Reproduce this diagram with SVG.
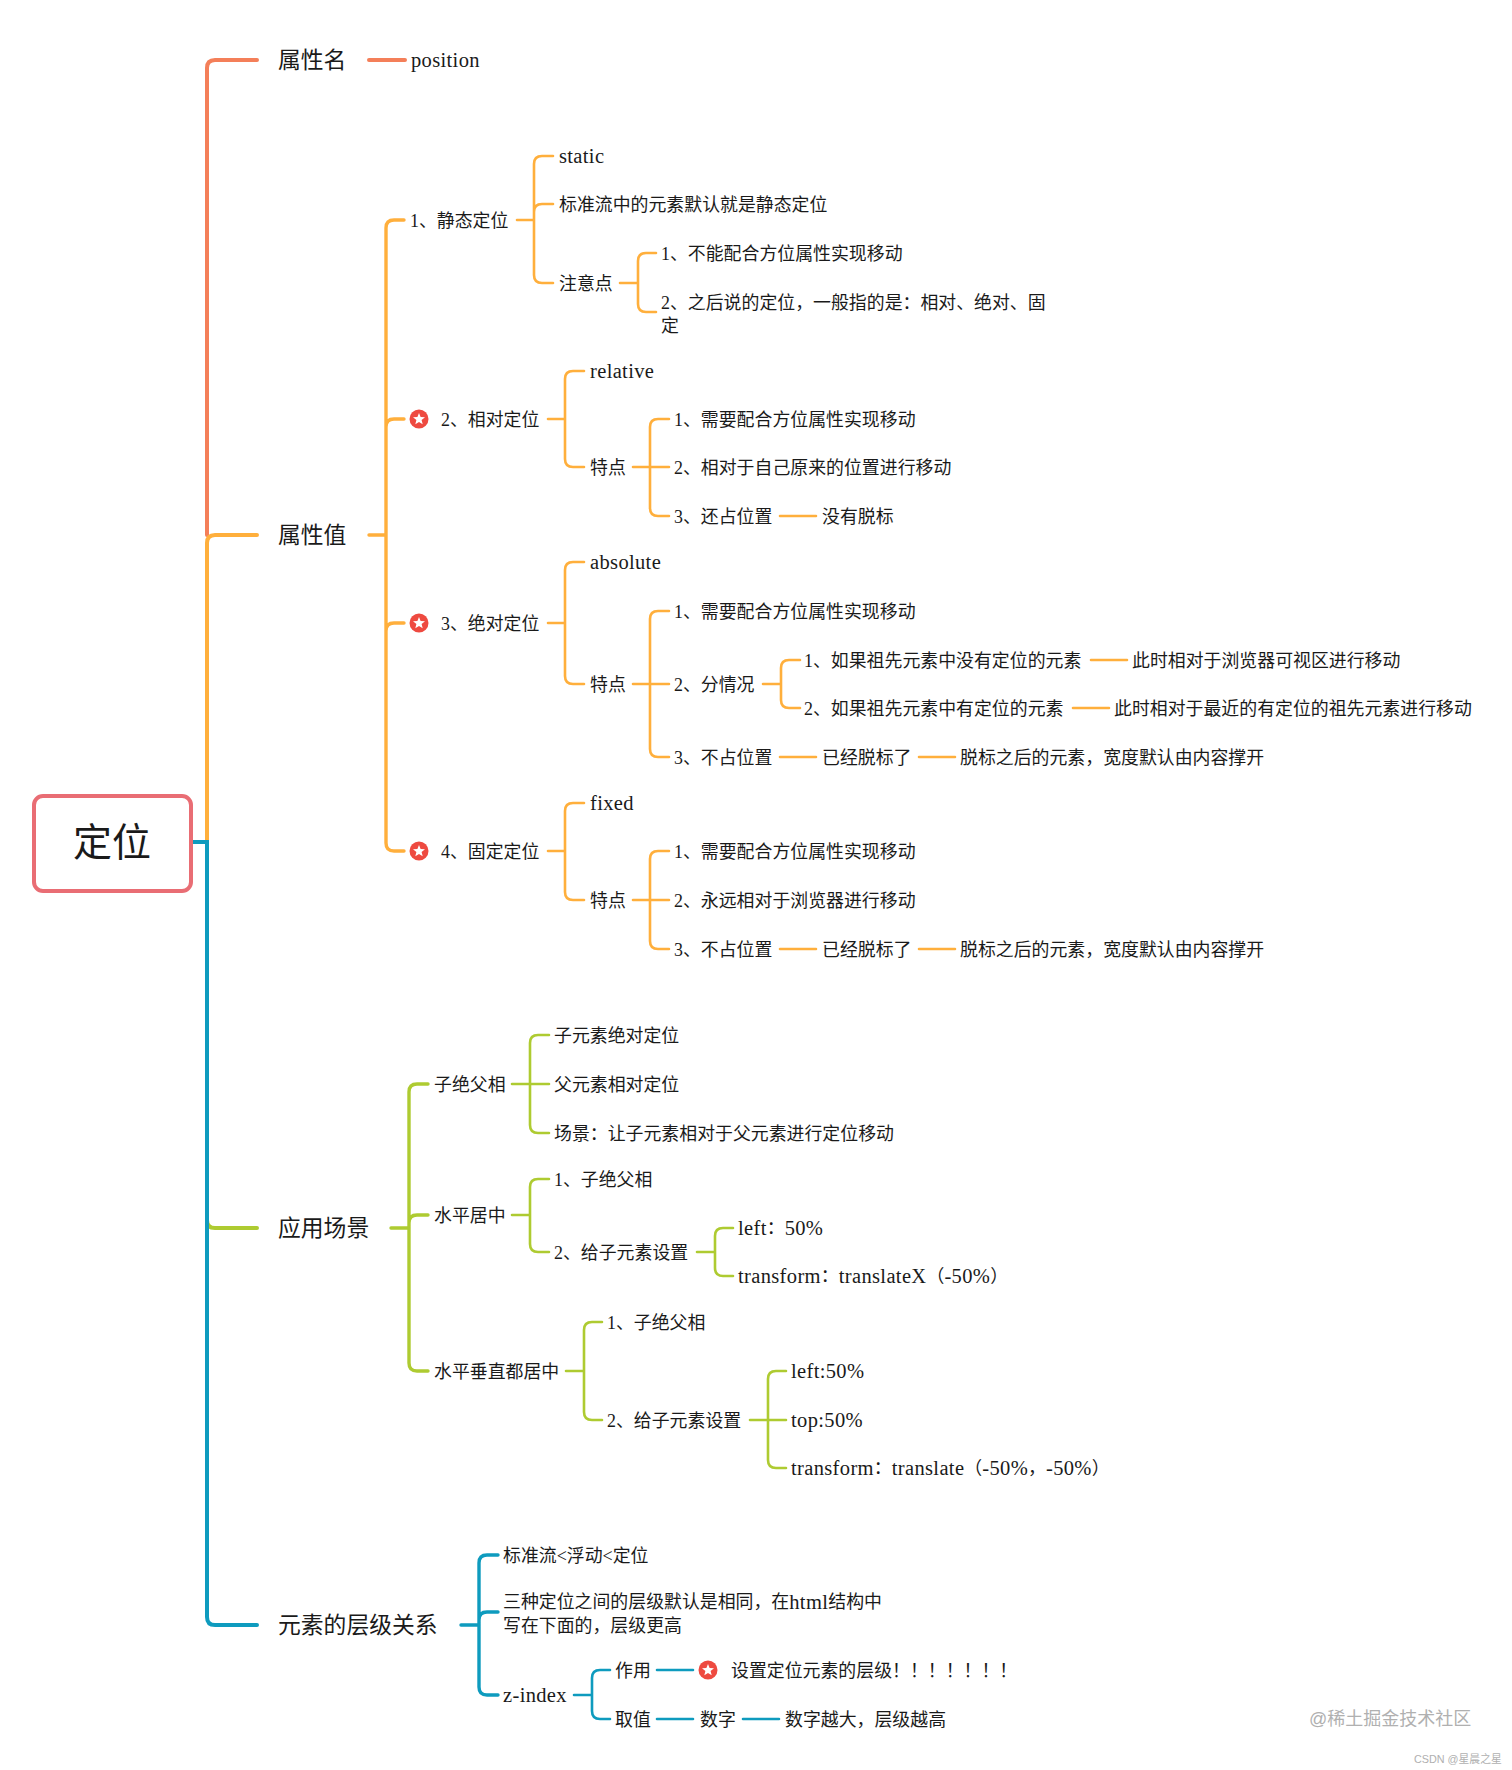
<svg xmlns="http://www.w3.org/2000/svg" xmlns:xlink="http://www.w3.org/1999/xlink" width="1512" height="1770" viewBox="0 0 1512 1770">
<style>
text{font-family:"Liberation Serif","Noto Sans CJK SC",sans-serif;font-size:17.9px;fill:#1a1a1a;dominant-baseline:central;transform:translateY(1px)}
text.t1{font-size:22.8px;transform:none}
text.root{font-size:39px;transform:none}
.l{font-size:20.5px;letter-spacing:.35px}
text.l,text.n{transform:none}
text.wm{fill:#b0b0b0;font-family:"Liberation Sans","Noto Sans CJK SC",sans-serif;transform:none}
path{fill:none;stroke-linecap:round}
.a{stroke-width:4}.b{stroke-width:3.4}.c{stroke-width:2.6}
.R{stroke:#F47F59}.O{stroke:#FFAF3C}.G{stroke:#AECB31}.T{stroke:#0E9BBE}
</style>
<defs>
<g id="star"><circle r="9.5" fill="#EE4A40"/><polygon fill="#fff" points="0,-6 1.6,-1.9 6,-1.7 2.6,1 3.7,5.2 0,2.9 -3.7,5.2 -2.6,1 -6,-1.7 -1.6,-1.9"/></g>
</defs>
<rect width="1512" height="1770" fill="#fff"/>
<g id="connectors">
<path class="a R" d="M207 535V68q0-8 8-8H257M369 60H405"/>
<path class="a O" d="M207 842V543q0-8 8-8H257"/>
<path class="a G" d="M207 1220q0 8 8 8H257"/>
<path class="a T" d="M192 842H207V1617q0 8 8 8H257"/>
<path class="b O" d="M369 535H386M404 220H394q-8 0-8 8V843q0 8 8 8H404M386 427q0-8 8-8H404M386 631q0-8 8-8H404"/>
<path class="c O" d="M517 220H534M553 156H542q-8 0-8 8V275q0 8 8 8H553M534 212q0-8 8-8H553"/>
<path class="c O" d="M620 283H638M656 253H646q-8 0-8 8V304q0 8 8 8H656"/>
<path class="c O" d="M548 419H565M584 371H573q-8 0-8 8V459q0 8 8 8H584"/>
<path class="c O" d="M633 467H650H669M669 419H658q-8 0-8 8V508q0 8 8 8H669M780 516H816"/>
<path class="c O" d="M548 623H565M584 562H573q-8 0-8 8V676q0 8 8 8H584"/>
<path class="c O" d="M633 684H669M669 611H658q-8 0-8 8V749q0 8 8 8H669M763 684H781M800 660H789q-8 0-8 8V700q0 8 8 8H800M1091 660H1127M1073 708H1109M780 757H816M919 757H955"/>
<path class="c O" d="M548 851H565M584 803H573q-8 0-8 8V892q0 8 8 8H584"/>
<path class="c O" d="M633 900H669M669 851H658q-8 0-8 8V941q0 8 8 8H669M780 949H816M919 949H955"/>
<path class="b G" d="M391 1228H409M428 1084H417q-8 0-8 8V1363q0 8 8 8H428M409 1223q0-8 8-8H428"/>
<path class="c G" d="M512 1084H549M549 1035H538q-8 0-8 8V1125q0 8 8 8H549"/>
<path class="c G" d="M512 1215H530M549 1179H538q-8 0-8 8V1244q0 8 8 8H549M697 1252H715M733 1228H723q-8 0-8 8V1268q0 8 8 8H733"/>
<path class="c G" d="M566 1371H584M602 1322H592q-8 0-8 8V1412q0 8 8 8H602M750 1420H786M786 1371H776q-8 0-8 8V1460q0 8 8 8H786"/>
<path class="b T" d="M461 1625H479M498 1555H487q-8 0-8 8V1687q0 8 8 8H498M479 1620q0-8 8-8H498"/>
<path class="c T" d="M574 1695H592M610 1670H600q-8 0-8 8V1711q0 8 8 8H610M657 1670H693M657 1719H693M743 1719H779"/>
</g>
<g id="root"><rect x="34" y="796" width="157" height="95" rx="9" fill="#fff" stroke="#E96D74" stroke-width="4"/><text class="root" x="112" y="842" text-anchor="middle">定位</text></g>
<g id="n1"><text class="t1" x="278" y="60">属性名</text></g>
<g id="n1a"><text class="l" x="411" y="60">position</text></g>
<g id="n2"><text class="t1" x="278" y="535">属性值</text></g>
<g id="n3"><text class="t1" x="278" y="1228">应用场景</text></g>
<g id="n4"><text class="t1" x="278" y="1625">元素的层级关系</text></g>

<g id="s1"><text x="410" y="220">1、静态定位</text></g>
<g id="s1a"><text class="l" x="559" y="156">static</text></g>
<g id="s1b"><text x="559" y="204">标准流中的元素默认就是静态定位</text></g>
<g id="s1c"><text x="559" y="283">注意点</text></g>
<g id="s1c1"><text x="661" y="253">1、不能配合方位属性实现移动</text></g>
<g id="s1c2"><text x="661" y="302">2、之后说的定位，一般指的是：相对、绝对、固</text><text x="661" y="325">定</text></g>

<g id="s2"><use href="#star" x="419" y="419"/><text x="441" y="419">2、相对定位</text></g>
<g id="s2a"><text class="l" x="590" y="371">relative</text></g>
<g id="s2b"><text x="590" y="467">特点</text></g>
<g id="s2b1"><text x="674" y="419">1、需要配合方位属性实现移动</text></g>
<g id="s2b2"><text x="674" y="467">2、相对于自己原来的位置进行移动</text></g>
<g id="s2b3"><text x="674" y="516">3、还占位置</text></g>
<g id="s2b3a"><text x="822" y="516">没有脱标</text></g>

<g id="s3"><use href="#star" x="419" y="623"/><text x="441" y="623">3、绝对定位</text></g>
<g id="s3a"><text class="l" x="590" y="562">absolute</text></g>
<g id="s3b"><text x="590" y="684">特点</text></g>
<g id="s3b1"><text x="674" y="611">1、需要配合方位属性实现移动</text></g>
<g id="s3b2"><text x="674" y="684">2、分情况</text></g>
<g id="s3b2a"><text x="804" y="660">1、如果祖先元素中没有定位的元素</text></g>
<g id="s3b2a1"><text x="1132" y="660">此时相对于浏览器可视区进行移动</text></g>
<g id="s3b2b"><text x="804" y="708">2、如果祖先元素中有定位的元素</text></g>
<g id="s3b2b1"><text x="1114" y="708">此时相对于最近的有定位的祖先元素进行移动</text></g>
<g id="s3b3"><text x="674" y="757">3、不占位置</text></g>
<g id="s3b3a"><text x="822" y="757">已经脱标了</text></g>
<g id="s3b3b"><text x="960" y="757">脱标之后的元素，宽度默认由内容撑开</text></g>

<g id="s4"><use href="#star" x="419" y="851"/><text x="441" y="851">4、固定定位</text></g>
<g id="s4a"><text class="l" x="590" y="803">fixed</text></g>
<g id="s4b"><text x="590" y="900">特点</text></g>
<g id="s4b1"><text x="674" y="851">1、需要配合方位属性实现移动</text></g>
<g id="s4b2"><text x="674" y="900">2、永远相对于浏览器进行移动</text></g>
<g id="s4b3"><text x="674" y="949">3、不占位置</text></g>
<g id="s4b3a"><text x="822" y="949">已经脱标了</text></g>
<g id="s4b3b"><text x="960" y="949">脱标之后的元素，宽度默认由内容撑开</text></g>

<g id="g1"><text x="434" y="1084">子绝父相</text></g>
<g id="g1a"><text x="554" y="1035">子元素绝对定位</text></g>
<g id="g1b"><text x="554" y="1084">父元素相对定位</text></g>
<g id="g1c"><text x="554" y="1133">场景：让子元素相对于父元素进行定位移动</text></g>
<g id="g2"><text x="434" y="1215">水平居中</text></g>
<g id="g2a"><text x="554" y="1179">1、子绝父相</text></g>
<g id="g2b"><text x="554" y="1252">2、给子元素设置</text></g>
<g id="g2b1"><text class="n" x="738" y="1228"><tspan class="l">left</tspan>：<tspan class="l">50%</tspan></text></g>
<g id="g2b2"><text class="n" x="738" y="1276"><tspan class="l">transform</tspan>：<tspan class="l">translateX</tspan>（<tspan class="l">-50%</tspan>）</text></g>
<g id="g3"><text x="434" y="1371">水平垂直都居中</text></g>
<g id="g3a"><text x="607" y="1322">1、子绝父相</text></g>
<g id="g3b"><text x="607" y="1420">2、给子元素设置</text></g>
<g id="g3b1"><text class="l" x="791" y="1371">left:50%</text></g>
<g id="g3b2"><text class="l" x="791" y="1420">top:50%</text></g>
<g id="g3b3"><text class="n" x="791" y="1468"><tspan class="l">transform</tspan>：<tspan class="l">translate</tspan>（<tspan class="l">-50%</tspan>，<tspan class="l">-50%</tspan>）</text></g>

<g id="z1"><text x="503" y="1555">标准流&lt;浮动&lt;定位</text></g>
<g id="z2"><text x="503" y="1601">三种定位之间的层级默认是相同，在<tspan class="l">html</tspan>结构中</text><text x="503" y="1625">写在下面的，层级更高</text></g>
<g id="z3"><text class="l" x="503" y="1695">z-index</text></g>
<g id="z3a"><text x="615" y="1670">作用</text></g>
<g id="z3a1"><use href="#star" x="708" y="1670"/><text x="731" y="1670">设置定位元素的层级！！！！！！！</text></g>
<g id="z3b"><text x="615" y="1719">取值</text></g>
<g id="z3b1"><text x="700" y="1719">数字</text></g>
<g id="z3b2"><text x="785" y="1719">数字越大，层级越高</text></g>
<text class="wm" x="1309" y="1719" style="font-size:18px">@稀土掘金技术社区</text>
<text class="wm" x="1414" y="1759" style="font-size:10.800px">CSDN @星晨之星</text>
</svg>
